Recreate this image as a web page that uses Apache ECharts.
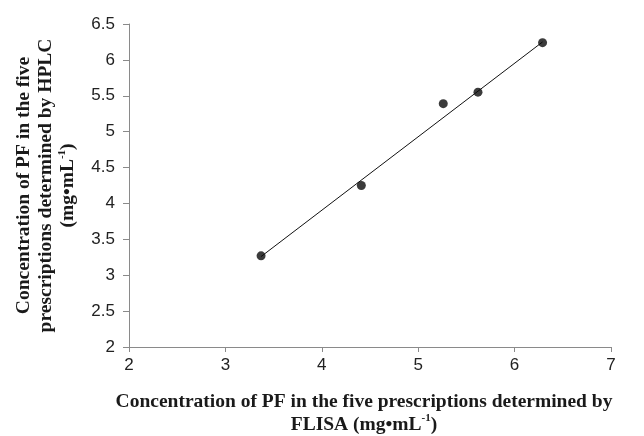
<!DOCTYPE html>
<html><head><meta charset="utf-8">
<script src="https://cdn.jsdelivr.net/npm/echarts@6/dist/echarts.min.js"></script>
<style>html,body{margin:0;padding:0;background:#fff}#c{width:644px;height:436px}</style>
</head><body><div id="c"></div>
<script>
var flisa = [3.37, 4.41, 5.26, 5.62, 6.29];
var hplc = [3.27, 4.25, 5.39, 5.55, 6.24];
var trendX = [3.37, 6.29];
var trendY = [3.26, 6.25];
var xTicks = [2, 3, 4, 5, 6, 7];
var yTicks = [2, 2.5, 3, 3.5, 4, 4.5, 5, 5.5, 6, 6.5];

var chart = echarts.init(document.getElementById('c'));
function titleStyle(lh, pad) {
  return {
    fontFamily: '"Liberation Serif", "Times New Roman", serif',
    fontWeight: 'bold', fontSize: 19.5, color: '#1a1a1a', lineHeight: lh,
    padding: pad,
    rich: { sup: { fontFamily: '"Liberation Serif", serif', fontWeight: 'bold', fontSize: 11, verticalAlign: 'top', lineHeight: lh, color: '#1a1a1a' } }
  };
}
var tickFont = { fontFamily: '"Liberation Sans", Arial, sans-serif', fontSize: 17, color: '#222' };
chart.setOption({
  animation: false,
  grid: { left: 129, right: 33, top: 24, bottom: 89, containLabel: false, outerBoundsMode: 'none' },
  xAxis: {
    type: 'value', min: xTicks[0], max: xTicks[xTicks.length - 1], interval: 1,
    name: 'Concentration of PF in the five prescriptions determined by\nFLISA (mg•mL{sup|-1})',
    nameLocation: 'middle', nameGap: 43, nameTextStyle: titleStyle(23, [0, 12, 0, 0]),
    axisLine: { show: true, lineStyle: { color: '#8a8a8a', width: 1 } },
    axisTick: { show: true, length: 5, lineStyle: { color: '#8a8a8a' } },
    axisLabel: Object.assign({ margin: 10 }, tickFont),
    splitLine: { show: false }
  },
  yAxis: {
    type: 'value', min: yTicks[0], max: yTicks[yTicks.length - 1], interval: 0.5,
    name: 'Concentration of PF in the five\nprescriptions determined by HPLC\n(mg•mL{sup|-1})',
    nameLocation: 'middle', nameGap: 50, nameTextStyle: titleStyle(22, 0),
    axisLine: { show: true, lineStyle: { color: '#8a8a8a', width: 1 } },
    axisTick: { show: true, length: 6, lineStyle: { color: '#8a8a8a' } },
    axisLabel: Object.assign({ margin: 14 }, tickFont),
    splitLine: { show: false }
  },
  series: [
    {
      type: 'line', data: trendX.map(function (x, i) { return [x, trendY[i]]; }),
      showSymbol: false, symbol: 'none', lineStyle: { color: '#111', width: 1 }, z: 1
    },
    {
      type: 'scatter', data: flisa.map(function (x, i) { return [x, hplc[i]]; }),
      symbol: 'circle', symbolSize: 9, itemStyle: { color: '#0a0a0a' }, z: 2
    }
  ]
});
</script></body></html>
